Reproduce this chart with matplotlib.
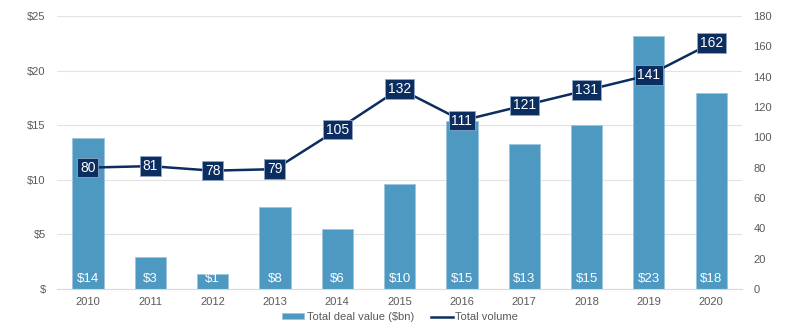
import matplotlib.pyplot as plt

years = ['2010', '2011', '2012', '2013', '2014', '2015', '2016', '2017', '2018', '2019', '2020']
deal_value = [13.8, 2.9, 1.4, 7.5, 5.5, 9.6, 15.4, 13.3, 15.0, 23.2, 17.9]
value_labels = ['$14', '$3', '$1', '$8', '$6', '$10', '$15', '$13', '$15', '$23', '$18']
volume = [80, 81, 78, 79, 105, 132, 111, 121, 131, 141, 162]

bar_color = '#4e99c2'
line_color = '#0c2d5f'
text_color = '#595959'

plt.rcParams['font.family'] = ['Liberation Sans', 'DejaVu Sans']

fig = plt.figure(figsize=(8, 3.32), dpi=100)
ax = fig.add_axes([0.071, 0.1295, 0.857, 0.8225])
ax2 = ax.twinx()

x = list(range(len(years)))
ax.bar(x, deal_value, width=0.5, color=bar_color, edgecolor='#9cc6dd', linewidth=0.6,
       label='Total deal value ($bn)', zorder=2)
for xi, lab in zip(x, value_labels):
    ax.text(xi, 0.9, lab, color='white', ha='center', va='center', fontsize=9.5, zorder=3)

ax.set_ylim(0, 25)
ax.set_yticks([0, 5, 10, 15, 20, 25])
ax.set_yticklabels(['$', '$5', '$10', '$15', '$20', '$25'])
ax.set_xlim(-0.5, len(years) - 0.5)
ax.set_xticks(x)
ax.set_xticklabels(years)
ax.grid(axis='y', color='#e3e3e3', linewidth=0.8, zorder=0)
ax.set_axisbelow(True)

ax2.plot(x, volume, color=line_color, linewidth=1.8, label='Total volume', zorder=4)
for xi, v in zip(x, volume):
    ax2.text(xi, v, str(v), color='white', ha='center', va='center', fontsize=10, zorder=5,
             bbox=dict(boxstyle='square,pad=0.2', fc=line_color, ec='#8fa6c4', lw=0.6))
ax2.set_ylim(0, 180)
ax2.set_yticks(range(0, 181, 20))

for a in (ax, ax2):
    for s in a.spines.values():
        s.set_visible(False)
    a.tick_params(length=0, labelsize=8, colors=text_color)
ax.spines['bottom'].set_visible(True)
ax.spines['bottom'].set_color('#d9d9d9')
ax.tick_params(axis='x', pad=6)
ax.tick_params(axis='y', pad=8)
ax2.tick_params(axis='y', pad=8)

h1, l1 = ax.get_legend_handles_labels()
h2, l2 = ax2.get_legend_handles_labels()
fig.legend(h1 + h2, l1 + l2, loc='center', bbox_to_anchor=(0.5, 0.045), ncol=2, frameon=False,
           fontsize=8, labelcolor=text_color, handlelength=2.0, handleheight=0.5, columnspacing=1.5,
           handletextpad=0.2)

fig.savefig('out.png', dpi=100)
